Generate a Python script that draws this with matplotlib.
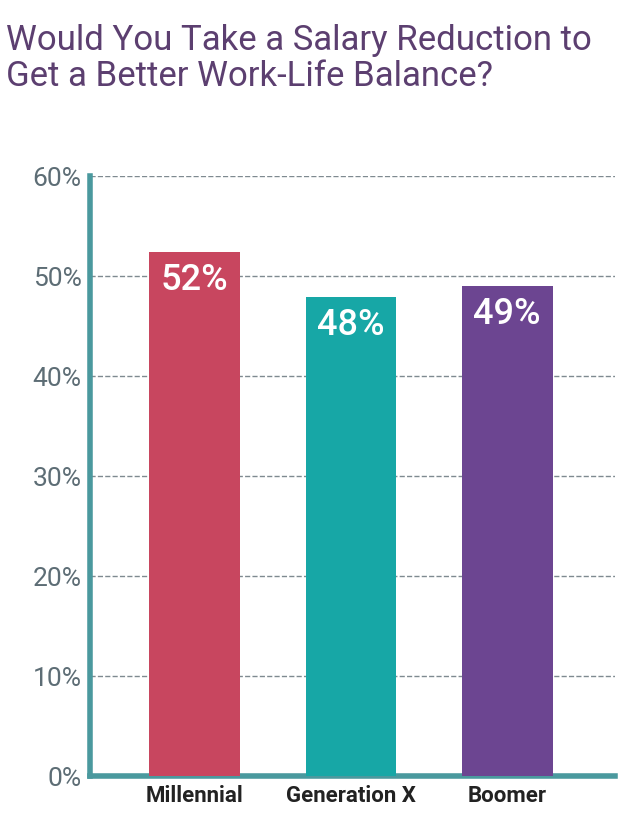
import matplotlib
matplotlib.use("Agg")
import matplotlib.pyplot as plt

categories = ["Millennial", "Generation X", "Boomer"]
values = [52.4, 47.9, 49.0]
labels = ["52%", "48%", "49%"]
colors = ["#c8465f", "#17a7a6", "#6c4591"]
yticks = [0, 10, 20, 30, 40, 50, 60]

fig = plt.figure(figsize=(6.4, 8.37), dpi=100)
ax = fig.add_axes([90/640, 1-777/837, (615-90)/640, (777-177)/837])
x = range(len(categories))
ax.bar(x, values, width=0.58, color=colors, zorder=3)
for i, (v, l) in enumerate(zip(values, labels)):
    ax.text(i, v - 1.0, l, ha="center", va="top", color="white",
            fontsize=26, family="Roboto", fontweight="medium", zorder=4)
ax.set_xlim(-0.67, 2.69)
ax.set_ylim(0, 60)
ax.set_yticks(yticks)
ax.set_yticklabels([f"{t}%" for t in yticks], color="#5d6d75", fontsize=19, family="Roboto")
ax.set_xticks(list(x))
ax.set_xticklabels(categories, fontsize=16, family="Roboto", fontweight="bold", color="#222222")
ax.yaxis.grid(True, linestyle="--", color="#7f8a90", linewidth=1, zorder=0)
for s in ["top", "right"]:
    ax.spines[s].set_visible(False)
for s in ["left", "bottom"]:
    ax.spines[s].set_color("#4a999e")
    ax.spines[s].set_linewidth(4)
ax.tick_params(length=0, pad=6)
fig.text(6/640, 1-24/837, "Would You Take a Salary Reduction to\nGet a Better Work-Life Balance?",
         ha="left", va="top", fontsize=25, family="Roboto", color="#5c3f70", linespacing=1.12)
fig.savefig("out.png", dpi=100)
